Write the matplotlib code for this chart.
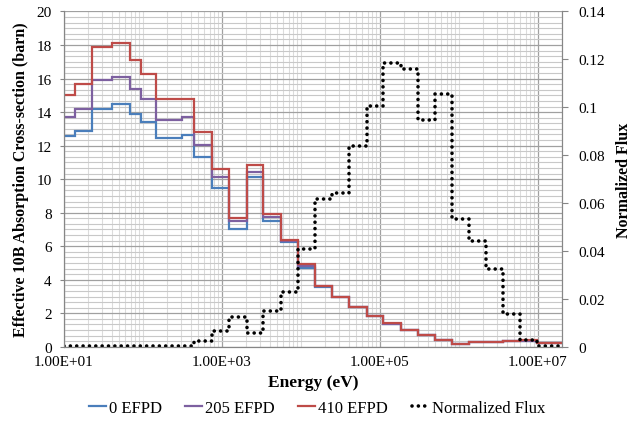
import matplotlib
matplotlib.use('Agg')
import matplotlib.pyplot as plt
from matplotlib.lines import Line2D
from matplotlib.ticker import FixedLocator, MultipleLocator, FuncFormatter, NullFormatter

# energy group boundaries (eV)
edges = [10, 13.8, 22.8, 40.2, 68.4, 93.5, 146, 309, 443, 746, 1230, 2070, 3330,
         5640, 9250, 15000, 24700, 40800, 67900, 110000, 185000, 305000, 497000,
         815000, 1.34e6, 2.2e6, 3.6e6, 5.9e6, 9.7e6, 2.0e7]

# effective 10B absorption cross-section (barn)
xs_0 = [12.6, 12.9, 14.2, 14.5, 13.9, 13.4, 12.45, 12.65, 11.3, 9.5, 7.05, 10.15, 7.5,
        6.23, 4.7, 3.55, 2.95, 2.36, 1.82, 1.38, 0.98, 0.7, 0.4, 0.15, 0.28, 0.28,
        0.34, 0.36, 0.23]
xs_205 = [13.7, 14.2, 15.9, 16.1, 15.4, 14.8, 13.55, 13.7, 12.05, 10.1, 7.5, 10.45, 7.72,
          6.33, 4.82, 3.6, 2.97, 2.38, 1.83, 1.39, 0.99, 0.71, 0.41, 0.16, 0.29, 0.29,
          0.35, 0.37, 0.24]
xs_410 = [15.0, 15.7, 17.9, 18.1, 17.1, 16.3, 14.8, 14.8, 12.8, 10.6, 7.7, 10.85, 7.92,
          6.4, 4.95, 3.65, 3.0, 2.4, 1.85, 1.4, 1.0, 0.72, 0.42, 0.16, 0.3, 0.3,
          0.36, 0.38, 0.25]

# normalized flux
flux = [0.0002, 0.0002, 0.0002, 0.0002, 0.0002, 0.0002, 0.0005, 0.0005, 0.0025,
        0.0067, 0.0123, 0.0057, 0.015, 0.0227, 0.0408, 0.0617, 0.0642, 0.084,
        0.1007, 0.1185, 0.116, 0.0945, 0.1055, 0.0534, 0.0443, 0.0325, 0.0137,
        0.0029, 0.0004]

labels = ['0 EFPD', '205 EFPD', '410 EFPD']
colors = ['#4a7ebb', '#7d60a0', '#be4b48']

plt.rcParams['font.family'] = ['Liberation Serif', 'DejaVu Serif']
plt.rcParams['font.size'] = 11

fig = plt.figure(figsize=(6.34, 4.31), dpi=100)
ax = fig.add_axes([0.101, 0.193, 0.785, 0.778])

for vals, c, lab in zip([xs_0, xs_205, xs_410], colors, labels):
    ax.stairs(vals, edges, baseline=None, color=c, lw=1.6, label=lab)

ax.set_xscale('log')
ax.set_xlim(10, 2e7)
ax.set_ylim(0, 20)
ax.yaxis.set_major_locator(MultipleLocator(2))
ax.yaxis.set_minor_locator(MultipleLocator(2 / 6))
ax.xaxis.set_major_locator(FixedLocator([1e1, 1e3, 1e5, 1e7]))
ax.xaxis.set_minor_locator(FixedLocator(
    [m * 10 ** d for d in range(1, 8) for m in range(1, 10)]))
ax.xaxis.set_major_formatter(FuncFormatter(lambda v, p: '%.2E' % v))
ax.xaxis.set_minor_formatter(NullFormatter())

ax.grid(True, which='major', axis='both', color='#a0a0a0', lw=0.9)
ax.grid(True, which='minor', axis='y', color='#c8c8c8', lw=0.8)
ax.grid(True, which='minor', axis='x', color='#dcdcdc', lw=0.8)
ax.set_axisbelow(True)
ax.tick_params(which='both', length=0, pad=6)
ax.tick_params(axis='y', which='major', length=3, direction='out', color='#868686')

ax.spines['top'].set_visible(False)
for s in ['left', 'right', 'bottom']:
    ax.spines[s].set_color('#868686')

ax.set_xlabel('Energy (eV)', fontweight='bold', fontsize=12.5, labelpad=4)
ax.set_ylabel('Effective 10B Absorption Cross-section (barn)', fontweight='bold',
              fontsize=11.5, labelpad=5)

ax2 = ax.twinx()
ax2.stairs(flux, edges, baseline=None, color='black', lw=2.6,
           linestyle=(0, (0.01, 1.75)), label='Normalized Flux')
ax2.set_ylim(0, 0.14)
ax2.yaxis.set_major_locator(MultipleLocator(0.02))
ax2.yaxis.set_major_formatter(FuncFormatter(lambda v, p: ('%g' % round(v, 2))))
ax2.tick_params(axis='y', length=4, direction='out', color='#868686', pad=8)
ax2.set_ylabel('Normalized Flux', fontweight='bold', fontsize=11.5, labelpad=8)
ax2.spines['top'].set_visible(False)
for s in ['left', 'right', 'bottom']:
    ax2.spines[s].set_color('#868686')
for p in ax2.patches:
    p.set_capstyle('round')

handles = [Line2D([], [], color=c, lw=1.6) for c in colors]
handles.append(Line2D([], [], color='black', lw=2.6, linestyle=(0, (0.01, 1.75)),
                      dash_capstyle='round'))
fig.legend(handles, labels + ['Normalized Flux'], loc='center', ncol=4,
           bbox_to_anchor=(0.5, 0.052), frameon=False, handlelength=1.0,
           handletextpad=0.2, columnspacing=1.4, fontsize=12)

fig.savefig('out.png', dpi=100)
